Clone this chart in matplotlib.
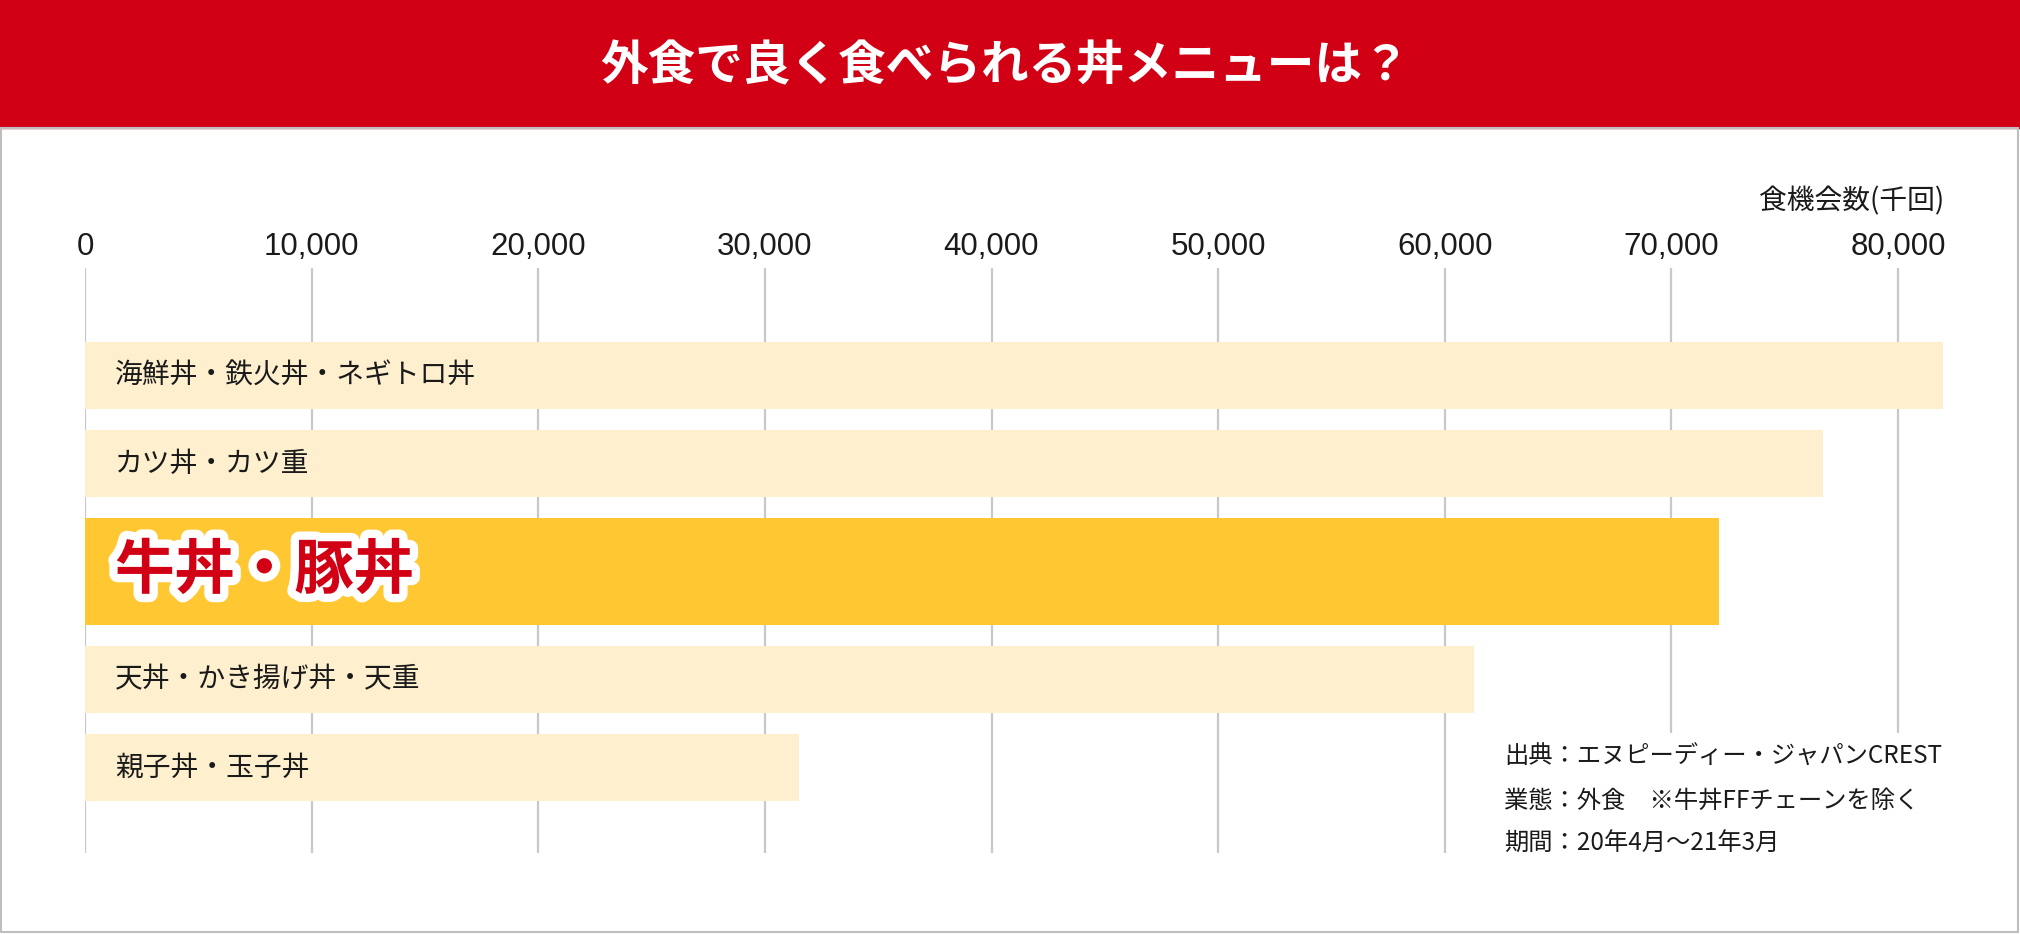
import matplotlib
matplotlib.use("Agg")
import matplotlib.pyplot as plt
import matplotlib.patheffects as pe
from matplotlib.patches import Rectangle

plt.rcParams['font.family'] = ['Noto Sans CJK JP', 'DejaVu Sans']

# data (千回)
menus = ["海鮮丼・鉄火丼・ネギトロ丼", "カツ丼・カツ重", "牛丼・豚丼",
         "天丼・かき揚げ丼・天重", "親子丼・玉子丼"]
values = [82000, 76700, 72100, 61300, 31500]
highlight = "牛丼・豚丼"
ticks = [0, 10000, 20000, 30000, 40000, 50000, 60000, 70000, 80000]
tick_labels = ["0", "10,000", "20,000", "30,000", "40,000", "50,000",
               "60,000", "70,000", "80,000"]
title = "外食で良く食べられる丼メニューは？"
unit_label = "食機会数(千回)"
notes = ["出典：エヌピーディー・ジャパンCREST",
         "業態：外食　※牛丼FFチェーンを除く",
         "期間：20年4月〜21年3月"]

W, H = 2020, 934
RED = "#D20014"
PALE = "#FEF0CE"
GOLD = "#FFC833"
GRID = "#C8C8C8"

fig = plt.figure(figsize=(W / 100, H / 100), dpi=100)

# red title band and grey frame
fig.add_artist(Rectangle((0, 1 - 128 / H), 1, 128 / H, transform=fig.transFigure,
                         color=RED, zorder=0))
fig.add_artist(Rectangle((1 / W, 2 / H), (W - 3) / W, (H - 130) / H,
                         transform=fig.transFigure, fill=False,
                         edgecolor="#BEBEBE", lw=1.5, zorder=0))
fig.text(1005 / W, 1 - 66 / H, title, color="white", fontsize=34.3,
         fontweight="bold", ha="center", va="center")

# plot area: x in data units, y in pixels from top
x0_px, px_per_unit = 85, 1813 / 80000
xmax = 84000
top, bottom = 268, 853
ax = fig.add_axes([x0_px / W, 1 - bottom / H, xmax * px_per_unit / W,
                   (bottom - top) / H])
ax.set_xlim(0, xmax)
ax.set_ylim(bottom, top)
ax.axis("off")

# bar layout
heights = [107 if m == highlight else 67 for m in menus]
gap = 21
ypos = [342 + heights[0] / 2]
for i in range(1, len(menus)):
    ypos.append(ypos[-1] + heights[i - 1] / 2 + gap + heights[i] / 2)
colors = [GOLD if m == highlight else PALE for m in menus]

# grid lines (right ones stop above the notes)
for t in ticks:
    yb = 733 if t >= 70000 else bottom
    ax.vlines(t, top, yb, color=GRID, lw=1.6, zorder=1)

ax.barh(ypos, values, height=heights, color=colors, zorder=2)

for t, lab in zip(ticks, tick_labels):
    ax.text(t, 247, lab, ha="center", va="center", fontsize=22.5,
            color="#1a1a1a", family=["Liberation Sans", "DejaVu Sans"])
ax.text(1944 / W, 1 - 201 / H, unit_label, transform=fig.transFigure,
        ha="right", va="center", fontsize=20, color="#1a1a1a")

lab_x = (115 - x0_px) / px_per_unit
for y, m in zip(ypos, menus):
    if m == highlight:
        ax.text(lab_x, y, m, ha="left", va="center", fontsize=43,
                fontweight="bold", color=RED, zorder=4,
                path_effects=[pe.withStroke(linewidth=12, foreground="white")])
    else:
        ax.text(lab_x, y, m, ha="left", va="center", fontsize=20,
                color="#1a1a1a", zorder=4)

for i, n in enumerate(notes):
    fig.text(1504 / W, 1 - (757 + 43.5 * i) / H, n, ha="left", va="center",
             fontsize=17.5, color="#1a1a1a")

fig.savefig("out.png", dpi=100)
